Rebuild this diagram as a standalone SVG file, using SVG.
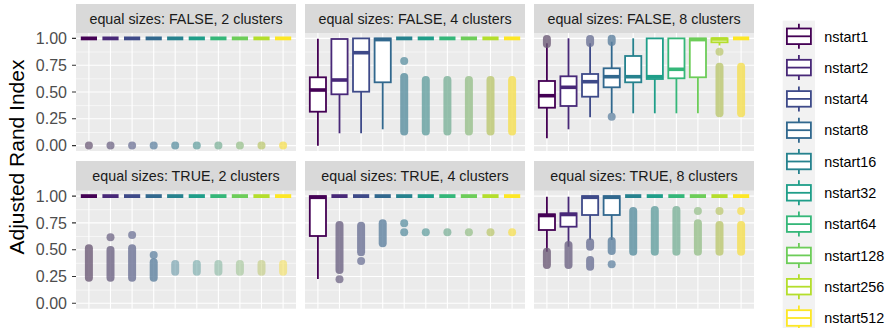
<svg xmlns="http://www.w3.org/2000/svg" width="891" height="328" viewBox="0 0 891 328">
<style>
.bg{fill:#EBEBEB}
.gM{stroke:#fff;stroke-width:1.1}
.gm{stroke:#fff;stroke-width:0.55}
.strip{fill:#D9D9D9}
text{font-family:"Liberation Sans",Arial,sans-serif}
.st{font-size:14.3px;fill:#1A1A1A;text-anchor:middle}
.ax{font-size:16px;fill:#4D4D4D;text-anchor:end}
.tk{stroke:#333;stroke-width:1.1}
.ttl{font-size:21px;fill:#000;text-anchor:middle}
.lt{font-size:14.4px;fill:#000}
.bx{fill:#fff;stroke-width:1.8}
.wh{stroke-width:1.8}
.md{stroke-width:3.6}
.fl{stroke-width:3.8}
.col{stroke-linecap:round;stroke-width:8;opacity:0.8}
.pt{opacity:0.75}
.s1{stroke:#440154}.s2{stroke:#482878}.s3{stroke:#3E4A89}.s4{stroke:#31688E}.s5{stroke:#26828E}
.s6{stroke:#1F9E89}.s7{stroke:#35B779}.s8{stroke:#6DCD59}.s9{stroke:#B4DE2C}.s10{stroke:#FDE725}
.c1{stroke:#6E5C78}.c2{stroke:#6E6484}.c3{stroke:#6C7296}.c4{stroke:#5F82A0}.c5{stroke:#5A8FA0}
.c6{stroke:#64A0A0}.c7{stroke:#7DB29A}.c8{stroke:#98C08C}.c9{stroke:#BCC870}.c10{stroke:#F5DF50}
.p1{fill:#6E5C78}.p2{fill:#6E6484}.p3{fill:#6C7296}.p4{fill:#5F82A0}.p5{fill:#5A8FA0}
.p6{fill:#64A0A0}.p7{fill:#7DB29A}.p8{fill:#98C08C}.p9{fill:#BCC870}.p10{fill:#F5DF50}
.kbg{fill:#F2F2F2}
</style>
<defs>
<g id="grid1">
<rect class="bg" x="0" y="33" width="220" height="118"/>
<line class="gm" x1="0" x2="220" y1="52.0" y2="52.0"/>
<line class="gm" x1="0" x2="220" y1="78.8" y2="78.8"/>
<line class="gm" x1="0" x2="220" y1="105.6" y2="105.6"/>
<line class="gm" x1="0" x2="220" y1="132.5" y2="132.5"/>
<line class="gM" x1="0" x2="220" y1="38.4" y2="38.4"/>
<line class="gM" x1="0" x2="220" y1="65.2" y2="65.2"/>
<line class="gM" x1="0" x2="220" y1="92.0" y2="92.0"/>
<line class="gM" x1="0" x2="220" y1="118.8" y2="118.8"/>
<line class="gM" x1="0" x2="220" y1="145.6" y2="145.6"/>
<path class="gM" d="M12.9 33V151M34.5 33V151M56.1 33V151M77.7 33V151M99.2 33V151M120.8 33V151M142.4 33V151M163.9 33V151M185.5 33V151M207.1 33V151"/>
<rect class="strip" x="0" y="4" width="220" height="29"/>
</g>
<g id="grid2">
<rect class="bg" x="0" y="190.7" width="220" height="118"/>
<line class="gm" x1="0" x2="220" y1="209.7" y2="209.7"/>
<line class="gm" x1="0" x2="220" y1="236.5" y2="236.5"/>
<line class="gm" x1="0" x2="220" y1="263.3" y2="263.3"/>
<line class="gm" x1="0" x2="220" y1="290.1" y2="290.1"/>
<line class="gM" x1="0" x2="220" y1="196.1" y2="196.1"/>
<line class="gM" x1="0" x2="220" y1="222.9" y2="222.9"/>
<line class="gM" x1="0" x2="220" y1="249.7" y2="249.7"/>
<line class="gM" x1="0" x2="220" y1="276.5" y2="276.5"/>
<line class="gM" x1="0" x2="220" y1="303.3" y2="303.3"/>
<path class="gM" d="M12.9 190.7V308.7M34.5 190.7V308.7M56.1 190.7V308.7M77.7 190.7V308.7M99.2 190.7V308.7M120.8 190.7V308.7M142.4 190.7V308.7M163.9 190.7V308.7M185.5 190.7V308.7M207.1 190.7V308.7"/>
<rect class="strip" x="0" y="161" width="220" height="29.7"/>
</g>
</defs>

<!-- axis title and labels -->
<text class="ttl" transform="translate(24,157) rotate(-90)">Adjusted Rand Index</text>
<g id="yaxis1">
<text class="ax" x="67" y="44.0">1.00</text>
<text class="ax" x="67" y="70.8">0.75</text>
<text class="ax" x="67" y="97.6">0.50</text>
<text class="ax" x="67" y="124.4">0.25</text>
<text class="ax" x="67" y="151.2">0.00</text>
<path class="tk" d="M72 38.4H76M72 65.2H76M72 92.0H76M72 118.8H76M72 145.6H76"/>
</g>
<g id="yaxis2">
<text class="ax" x="67" y="201.7">1.00</text>
<text class="ax" x="67" y="228.5">0.75</text>
<text class="ax" x="67" y="255.3">0.50</text>
<text class="ax" x="67" y="282.1">0.25</text>
<text class="ax" x="67" y="308.9">0.00</text>
<path class="tk" d="M72 196.1H76M72 222.9H76M72 249.7H76M72 276.5H76M72 303.3H76"/>
</g>

<!-- Panel 1 -->
<g id="panel-false-2">
<use href="#grid1" x="76"/>
<text class="st" x="186" y="23.5">equal sizes: FALSE, 2 clusters</text>
<path class="fl s1" d="M80.8 38.4H97"/><path class="fl s2" d="M102.4 38.4H118.6"/><path class="fl s3" d="M124 38.4H140.2"/><path class="fl s4" d="M145.6 38.4H161.8"/><path class="fl s5" d="M167.1 38.4H183.3"/>
<path class="fl s6" d="M188.7 38.4H204.9"/><path class="fl s7" d="M210.3 38.4H226.5"/><path class="fl s8" d="M231.8 38.4H248"/><path class="fl s9" d="M253.4 38.4H269.6"/><path class="fl s10" d="M275 38.4H291.2"/>
<circle class="pt p1" cx="88.9" cy="145.6" r="4"/><circle class="pt p2" cx="110.5" cy="145.6" r="4"/><circle class="pt p3" cx="132.1" cy="145.6" r="4"/><circle class="pt p4" cx="153.7" cy="145.6" r="4"/><circle class="pt p5" cx="175.2" cy="145.6" r="4"/>
<circle class="pt p6" cx="196.8" cy="145.6" r="4"/><circle class="pt p7" cx="218.4" cy="145.6" r="4"/><circle class="pt p8" cx="239.9" cy="145.6" r="4"/><circle class="pt p9" cx="261.5" cy="145.6" r="4"/><circle class="pt p10" cx="283.1" cy="145.6" r="4"/>
</g>

<!-- Panel 2 -->
<g id="panel-false-4">
<use href="#grid1" x="305"/>
<text class="st" x="415" y="23.5">equal sizes: FALSE, 4 clusters</text>
<path class="wh s1" d="M317.9 38.7V145.7"/><rect class="bx s1" x="309.8" y="77.3" width="16.2" height="34.4"/><path class="md s1" d="M309.8 90H326"/>
<path class="wh s2" d="M339.5 94.3V133.3"/><rect class="bx s2" x="331.4" y="39" width="16.2" height="55.3"/><path class="md s2" d="M331.4 80H347.6"/>
<path class="wh s3" d="M361.1 91.7V133.3"/><rect class="bx s3" x="353" y="38.4" width="16.2" height="53.3"/><path class="md s3" d="M353 52.7H369.2"/>
<path class="wh s4" d="M382.7 82.3V129.3"/><rect class="bx s4" x="374.6" y="38.4" width="16.2" height="43.9"/><path class="md s4" d="M374.6 39.6H390.8"/>
<path class="fl s5" d="M396.1 38.4H412.3"/><path class="fl s6" d="M417.7 38.4H433.9"/><path class="fl s7" d="M439.3 38.4H455.5"/><path class="fl s8" d="M460.8 38.4H477"/><path class="fl s9" d="M482.4 38.4H498.6"/><path class="fl s10" d="M504 38.4H520.2"/>
<circle class="pt p5" cx="404.2" cy="61" r="4"/>
<path class="col c5" d="M404.2 77V131.5"/>
<path class="col c6" d="M425.8 80V131.5"/>
<path class="col c7" d="M447.4 80V131.5"/>
<path class="col c8" d="M468.9 80V131.5"/>
<path class="col c9" d="M490.5 80V131.5"/>
<path class="col c10" d="M512.1 80V131.5"/>
</g>

<!-- Panel 3 -->
<g id="panel-false-8">
<use href="#grid1" x="534"/>
<text class="st" x="644" y="23.5">equal sizes: FALSE, 8 clusters</text>
<path class="wh s1" d="M546.9 43.3V138.3"/><rect class="bx s1" x="538.8" y="81" width="16.2" height="26.7"/><path class="md s1" d="M538.8 95.7H555"/>
<path class="col c1" d="M546.9 39V44"/>
<path class="wh s2" d="M568.5 38.3V129.3"/><rect class="bx s2" x="560.4" y="76.3" width="16.2" height="29.7"/><path class="md s2" d="M560.4 87.3H576.6"/>
<path class="wh s3" d="M590.1 43.3V117.3"/><rect class="bx s3" x="582" y="74" width="16.2" height="22.7"/><path class="md s3" d="M582 81.7H598.2"/>
<path class="col c3" d="M590.1 39V43"/>
<path class="wh s4" d="M611.7 41.7V113.3"/><rect class="bx s4" x="603.6" y="68.3" width="16.2" height="19"/><path class="md s4" d="M603.6 76.7H619.8"/>
<path class="col c4" d="M611.7 38.8V42"/><circle class="pt p4" cx="611.7" cy="116.7" r="4"/>
<path class="wh s5" d="M633.2 38.3V113.3"/><rect class="bx s5" x="625.1" y="56" width="16.2" height="26.3"/><path class="md s5" d="M625.1 76.7H641.3"/>
<path class="wh s6" d="M654.8 79V113.3"/><rect class="bx s6" x="646.7" y="38.4" width="16.2" height="40.6"/><path class="md s6" d="M646.7 76.7H662.9"/>
<path class="wh s7" d="M676.4 78.3V113.3"/><rect class="bx s7" x="668.3" y="38.4" width="16.2" height="39.9"/><path class="md s7" d="M668.3 69.3H684.5"/>
<path class="wh s8" d="M697.9 77.3V113.3"/><rect class="bx s8" x="689.8" y="38.4" width="16.2" height="38.9"/><path class="md s8" d="M689.8 39.6H706"/>
<path class="wh s9" d="M719.5 42.3V45.5"/><rect class="bx s9" x="711.4" y="38.4" width="16.2" height="3.9"/><path class="md s9" d="M711.4 39H727.6"/>
<circle class="pt p9" cx="719.5" cy="51.7" r="4"/><path class="col c9" d="M719.5 66.7V113.3"/>
<path class="fl s10" d="M733 38.4H749.2"/>
<path class="col c10" d="M741.1 66.7V113.3"/>
</g>

<!-- Panel 4 -->
<g id="panel-true-2">
<use href="#grid2" x="76"/>
<text class="st" x="186" y="181">equal sizes: TRUE, 2 clusters</text>
<path class="fl s1" d="M80.8 196.1H97"/><path class="fl s2" d="M102.4 196.1H118.6"/><path class="fl s3" d="M124 196.1H140.2"/><path class="fl s4" d="M145.6 196.1H161.8"/><path class="fl s5" d="M167.1 196.1H183.3"/>
<path class="fl s6" d="M188.7 196.1H204.9"/><path class="fl s7" d="M210.3 196.1H226.5"/><path class="fl s8" d="M231.8 196.1H248"/><path class="fl s9" d="M253.4 196.1H269.6"/><path class="fl s10" d="M275 196.1H291.2"/>
<path class="col c1" d="M88.9 248.3V277.7"/>
<path class="col c2" d="M110.5 250V277.7"/><circle class="pt p2" cx="110.5" cy="237.3" r="4"/>
<path class="col c3" d="M132.1 248.3V277.7"/><circle class="pt p3" cx="132.1" cy="235" r="4"/>
<path class="col c4" d="M153.7 262.3V277.7"/><circle class="pt p4" cx="153.7" cy="255" r="4"/>
<path class="col c5" style="opacity:.55" d="M175.2 264V271.7"/>
<path class="col c6" style="opacity:.55" d="M196.8 264V271.7"/>
<path class="col c7" style="opacity:.55" d="M218.4 264V271.7"/>
<path class="col c8" style="opacity:.55" d="M239.9 264V271.7"/>
<path class="col c9" style="opacity:.55" d="M261.5 264V271.7"/>
<path class="col c10" style="opacity:.55" d="M283.1 264V271.7"/>
</g>

<!-- Panel 5 -->
<g id="panel-true-4">
<use href="#grid2" x="305"/>
<text class="st" x="415" y="181">equal sizes: TRUE, 4 clusters</text>
<path class="wh s1" d="M317.9 236V279"/><rect class="bx s1" x="309.8" y="196.1" width="16.2" height="39.9"/><path class="md s1" d="M309.8 197.3H326"/>
<path class="fl s2" d="M331.4 196.1H347.6"/><path class="fl s3" d="M353 196.1H369.2"/><path class="fl s4" d="M374.6 196.1H390.8"/><path class="fl s5" d="M396.1 196.1H412.3"/>
<path class="fl s6" d="M417.7 196.1H433.9"/><path class="fl s7" d="M439.3 196.1H455.5"/><path class="fl s8" d="M460.8 196.1H477"/><path class="fl s9" d="M482.4 196.1H498.6"/><path class="fl s10" d="M504 196.1H520.2"/>
<path class="col c2" d="M339.5 225V270"/><circle class="pt p2" cx="339.5" cy="279.3" r="4"/>
<path class="col c3" d="M361.1 225.7V252.3"/><circle class="pt p3" cx="361.1" cy="261" r="4"/>
<path class="col c4" d="M382.7 223.3V243.3"/>
<circle class="pt p5" cx="404.2" cy="223.3" r="4"/><circle class="pt p5" cx="404.2" cy="232.3" r="4"/>
<circle class="pt p6" cx="425.8" cy="232.3" r="4"/>
<circle class="pt p7" cx="447.4" cy="232.3" r="4"/>
<circle class="pt p8" cx="468.9" cy="232.3" r="4"/>
<circle class="pt p9" cx="490.5" cy="232.3" r="4"/>
<circle class="pt p10" cx="512.1" cy="232.3" r="4"/>
</g>

<!-- Panel 6 -->
<g id="panel-true-8">
<use href="#grid2" x="534"/>
<text class="st" x="644" y="181">equal sizes: TRUE, 8 clusters</text>
<path class="wh s1" d="M546.9 196.7V251.7"/><rect class="bx s1" x="538.8" y="214.3" width="16.2" height="15.7"/><path class="md s1" d="M538.8 215.5H555"/>
<path class="col c1" d="M546.9 251.7V265"/>
<path class="wh s2" d="M568.5 196.7V246.7"/><rect class="bx s2" x="560.4" y="213.3" width="16.2" height="13.4"/><path class="md s2" d="M560.4 214.5H576.6"/>
<path class="col c2" d="M568.5 245V265"/>
<path class="wh s3" d="M590.1 215V240"/><rect class="bx s3" x="582" y="196.1" width="16.2" height="18.9"/><path class="md s3" d="M582 197.3H598.2"/>
<path class="col c3" d="M590.1 242.3V246.7"/><path class="col c3" d="M590.1 260V266.7"/>
<path class="wh s4" d="M611.7 215V240"/><rect class="bx s4" x="603.6" y="196.1" width="16.2" height="18.9"/><path class="md s4" d="M603.6 197.3H619.8"/>
<path class="col c4" d="M611.7 241V251"/><circle class="pt p4" cx="611.7" cy="264.3" r="4"/>
<path class="fl s5" d="M625.1 196.1H641.3"/><path class="fl s6" d="M646.7 196.1H662.9"/><path class="fl s7" d="M668.3 196.1H684.5"/><path class="fl s8" d="M689.8 196.1H706"/><path class="fl s9" d="M711.4 196.1H727.6"/><path class="fl s10" d="M733 196.1H749.2"/>
<path class="col c5" d="M633.2 211V251.7"/>
<path class="col c6" d="M654.8 210V251.7"/>
<path class="col c7" d="M676.4 210V251.7"/>
<circle class="pt p8" cx="697.9" cy="211" r="4"/><path class="col c8" d="M697.9 223.3V251.7"/>
<circle class="pt p9" cx="719.5" cy="211" r="4"/><path class="col c9" d="M719.5 225V251.7"/>
<circle class="pt p10" cx="741.1" cy="211" r="4"/><path class="col c10" d="M741.1 225V251.7"/>
</g>

<!-- Legend -->
<g id="legend">
<rect class="kbg" x="782.7" y="20.6" width="32.3" height="313"/>
<g id="key-nstart1"><path class="wh s1" d="M798.9 23.8V48.8"/><rect class="bx s1" x="786.9" y="28.5" width="24" height="15.6"/><path class="wh s1" d="M786.9 36.3H810.9"/><text class="lt" x="824.3" y="41.5">nstart1</text></g>
<g id="key-nstart2"><path class="wh s2" d="M798.9 55.1V80.1"/><rect class="bx s2" x="786.9" y="59.8" width="24" height="15.6"/><path class="wh s2" d="M786.9 67.6H810.9"/><text class="lt" x="824.3" y="72.8">nstart2</text></g>
<g id="key-nstart4"><path class="wh s3" d="M798.9 86.4V111.4"/><rect class="bx s3" x="786.9" y="91.1" width="24" height="15.6"/><path class="wh s3" d="M786.9 98.9H810.9"/><text class="lt" x="824.3" y="104.1">nstart4</text></g>
<g id="key-nstart8"><path class="wh s4" d="M798.9 117.7V142.7"/><rect class="bx s4" x="786.9" y="122.4" width="24" height="15.6"/><path class="wh s4" d="M786.9 130.2H810.9"/><text class="lt" x="824.3" y="135.4">nstart8</text></g>
<g id="key-nstart16"><path class="wh s5" d="M798.9 149V174"/><rect class="bx s5" x="786.9" y="153.7" width="24" height="15.6"/><path class="wh s5" d="M786.9 161.5H810.9"/><text class="lt" x="824.3" y="166.7">nstart16</text></g>
<g id="key-nstart32"><path class="wh s6" d="M798.9 180.3V205.3"/><rect class="bx s6" x="786.9" y="185" width="24" height="15.6"/><path class="wh s6" d="M786.9 192.8H810.9"/><text class="lt" x="824.3" y="198">nstart32</text></g>
<g id="key-nstart64"><path class="wh s7" d="M798.9 211.6V236.6"/><rect class="bx s7" x="786.9" y="216.3" width="24" height="15.6"/><path class="wh s7" d="M786.9 224.1H810.9"/><text class="lt" x="824.3" y="229.3">nstart64</text></g>
<g id="key-nstart128"><path class="wh s8" d="M798.9 242.9V267.9"/><rect class="bx s8" x="786.9" y="247.6" width="24" height="15.6"/><path class="wh s8" d="M786.9 255.4H810.9"/><text class="lt" x="824.3" y="260.6">nstart128</text></g>
<g id="key-nstart256"><path class="wh s9" d="M798.9 274.2V299.2"/><rect class="bx s9" x="786.9" y="278.9" width="24" height="15.6"/><path class="wh s9" d="M786.9 286.7H810.9"/><text class="lt" x="824.3" y="291.9">nstart256</text></g>
<g id="key-nstart512"><path class="wh s10" d="M798.9 305.5V330.5"/><rect class="bx s10" x="786.9" y="310.2" width="24" height="15.6"/><path class="wh s10" d="M786.9 318H810.9"/><text class="lt" x="824.3" y="323.2">nstart512</text></g>
</g>
</svg>
